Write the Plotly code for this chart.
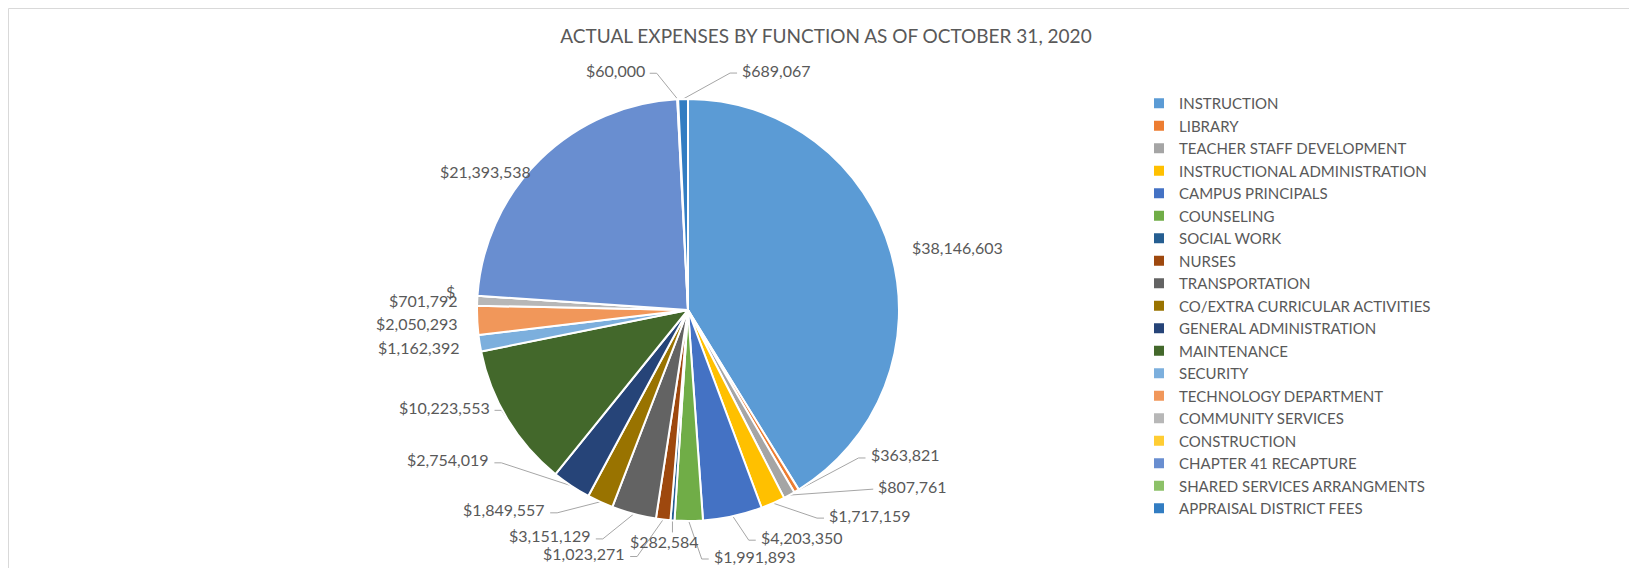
import math
import plotly.graph_objects as go

# ---------------- data ----------------
categories = [
    "INSTRUCTION", "LIBRARY", "TEACHER STAFF DEVELOPMENT", "INSTRUCTIONAL ADMINISTRATION",
    "CAMPUS PRINCIPALS", "COUNSELING", "SOCIAL WORK", "NURSES", "TRANSPORTATION",
    "CO/EXTRA CURRICULAR ACTIVITIES", "GENERAL ADMINISTRATION", "MAINTENANCE", "SECURITY",
    "TECHNOLOGY DEPARTMENT", "COMMUNITY SERVICES", "CONSTRUCTION", "CHAPTER 41 RECAPTURE",
    "SHARED SERVICES ARRANGMENTS", "APPRAISAL DISTRICT FEES",
]
values = [
    38146603, 363821, 807761, 1717159, 4203350, 1991893, 282584, 1023271, 3151129,
    1849557, 2754019, 10223553, 1162392, 2050293, 701792, 0, 21393538, 60000, 689067,
]
colors = [
    "#5B9BD5", "#ED7D31", "#A5A5A5", "#FFC000", "#4472C4", "#70AD47", "#255E91",
    "#9E480E", "#636363", "#997300", "#264478", "#43682B", "#7CAFDD", "#F1975A",
    "#B7B7B7", "#FFCD33", "#698ED0", "#8CC168", "#327DC2",
]
title_text = "ACTUAL EXPENSES BY FUNCTION AS OF OCTOBER 31, 2020"

# ---------------- layout / style ----------------
W, H = 1637, 568
CX, CY, R = 680, 302, 211          # pie centre and radius (figure pixels)
FONT = "Lato, 'Open Sans', sans-serif"
TXT = "#595959"
LEADER = "#A6A6A6"

# label placement: offset (px) from slice's rim mid-point, text anchor, leader line flag
label_style = [
    (19, -5, "left", False),
    (72, -36, "left", True),
    (87, -9, "left", True),
    (54, 12, "left", True),
    (26, 21, "left", True),
    (23, 35, "left", True),
    (-8, 21, "center", True),
    (-36, 34, "right", True),
    (-41, 22, "right", True),
    (-53, 8, "right", True),
    (-80, -26, "right", True),
    (-16, -12, "right", True),
    (-18, 4, "right", False),
    (-17, 3, "right", False),
    (-17, 0, "right", False),
    (-20, -4, "right", False),
    (-7, 12, "right", False),
    (-31, -29, "right", True),
    (57, -29, "left", True),
]

def fmt(v):
    return "$" if v == 0 else "${:,}".format(v)

fig = go.Figure()

fig.add_trace(go.Pie(
    labels=categories,
    values=values,
    sort=False,
    direction="clockwise",
    rotation=0,
    marker=dict(colors=colors, line=dict(color="white", width=2)),
    textinfo="none",
    hoverinfo="label+value",
    domain=dict(x=[(CX - R) / W, (CX + R) / W], y=[(H - CY - R) / H, (H - CY + R) / H]),
    showlegend=True,
))

# ---- data labels with leader lines, positioned from slice angles ----
total = float(sum(values))
cum = 0.0
lx_all, ly_all = [], []
annotations = []
for v, (dx, dy, side, leader) in zip(values, label_style):
    mid = (cum + v / 2.0) / total * 2 * math.pi
    cum += v
    ax = CX + R * math.sin(mid)
    ay = CY - R * math.cos(mid)
    tx, ty = ax + dx, ay + dy
    annotations.append(dict(
        x=tx, y=ty, xref="x", yref="y", text=fmt(v), showarrow=False,
        xanchor=side, yanchor="middle",
        font=dict(family=FONT, size=16, color=TXT),
    ))
    if leader:
        if side == "left":
            ex, ey = tx - 3, ty + 3
            pts = [(ax, ay), (ex - 7, ey), (ex, ey)]
        elif side == "right":
            ex, ey = tx + 3, ty + 3
            pts = [(ax, ay), (ex + 7, ey), (ex, ey)]
        else:
            pts = [(ax, ay), (ax, ty - 9)]
        for px, py in pts:
            lx_all.append(px)
            ly_all.append(py)
        lx_all.append(None)
        ly_all.append(None)

fig.add_trace(go.Scatter(
    x=lx_all, y=ly_all, mode="lines", line=dict(color=LEADER, width=1),
    hoverinfo="skip", showlegend=False, xaxis="x", yaxis="y",
))

fig.update_layout(
    width=W, height=H,
    margin=dict(l=0, r=0, t=0, b=0),
    paper_bgcolor="white", plot_bgcolor="rgba(0,0,0,0)",
    xaxis=dict(range=[0, W], visible=False, fixedrange=True, domain=[0, 1]),
    yaxis=dict(range=[H, 0], visible=False, fixedrange=True, domain=[0, 1]),
    title=dict(
        text=title_text, x=818 / W, y=1 - 28 / H, xref="paper", yref="paper",
        xanchor="center", yanchor="middle",
        font=dict(family=FONT, size=19, color=TXT),
    ),
    legend=dict(
        x=1131 / W, y=1 - 79 / H, xanchor="left", yanchor="top",
        font=dict(family=FONT, size=15, color=TXT),
        bgcolor="rgba(0,0,0,0)", itemwidth=30, tracegroupgap=0,
    ),
    annotations=annotations,
    shapes=[dict(
        type="path", xref="x", yref="y",
        path=f"M 0.5 {H} L 0.5 0.5 L {W} 0.5",
        line=dict(color="#D9D9D9", width=1),
    )],
)

fig.write_html("out.html")
